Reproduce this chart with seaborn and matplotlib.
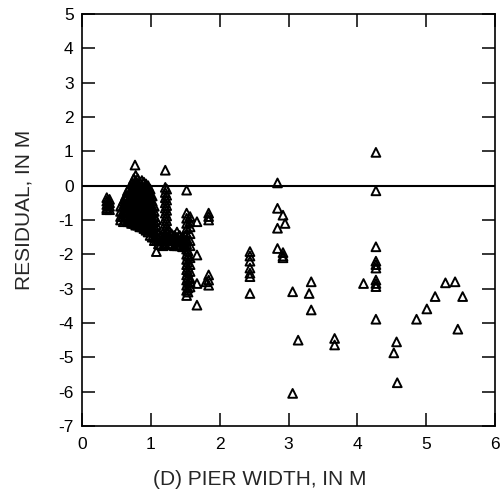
import matplotlib
matplotlib.use("Agg")
import matplotlib.pyplot as plt
import seaborn as sns
import pandas as pd

# ---- data ----
widths_narrow = [0.36, 0.40, 0.56, 0.60, 0.63, 0.66, 0.69, 0.72, 0.75, 0.77, 0.78, 0.81,
                 0.84, 0.87, 0.90, 0.93, 0.96, 0.99, 1.02, 1.05, 1.08, 1.11]
residuals_narrow = [
    [-0.35, -0.45, -0.55, -0.65, -0.7],
    [-0.4, -0.5, -0.6, -0.7],
    [-0.6, -0.75, -0.9, -1.0],
    [-0.45, -0.6, -0.75, -0.9, -1.05],
    [-0.3, -0.4, -0.55, -0.7, -0.85, -1.0],
    [-0.15, -0.3, -0.45, -0.6, -0.75, -0.9, -1.05],
    [-0.05, -0.2, -0.35, -0.5, -0.65, -0.8, -0.95, -1.05],
    [0.05, -0.1, -0.25, -0.4, -0.55, -0.7, -0.85, -1.0, -1.1],
    [0.2, 0.05, -0.1, -0.25, -0.4, -0.55, -0.7, -0.85, -1.0, -1.1],
    [0.6],
    [0.3, 0.15, 0.0, -0.15, -0.3, -0.45, -0.6, -0.75, -0.9, -1.05, -1.15],
    [0.2, 0.05, -0.1, -0.25, -0.4, -0.55, -0.7, -0.85, -1.0, -1.15],
    [0.1, -0.05, -0.2, -0.35, -0.5, -0.65, -0.8, -0.95, -1.1, -1.2],
    [0.15, 0.0, -0.15, -0.3, -0.45, -0.6, -0.75, -0.9, -1.05, -1.2],
    [0.1, -0.05, -0.2, -0.35, -0.5, -0.65, -0.8, -0.95, -1.1, -1.25],
    [0.05, -0.1, -0.25, -0.4, -0.55, -0.7, -0.85, -1.0, -1.15, -1.3],
    [0.0, -0.15, -0.3, -0.45, -0.6, -0.75, -0.9, -1.05, -1.2, -1.35],
    [-0.1, -0.25, -0.4, -0.55, -0.7, -0.85, -1.0, -1.15, -1.3, -1.45],
    [-0.3, -0.45, -0.6, -0.75, -0.9, -1.05, -1.2, -1.35, -1.5],
    [-0.6, -0.75, -0.9, -1.05, -1.2, -1.35, -1.5, -1.6],
    [-1.0, -1.15, -1.3, -1.45, -1.6, -1.92],
    [-1.4, -1.55, -1.7],
]

widths_mid = [1.14, 1.18, 1.21, 1.23, 1.26, 1.30, 1.34, 1.38, 1.42, 1.46, 1.50, 1.52,
              1.54, 1.57, 1.67, 1.80, 1.84]
residuals_mid = [
    [-1.45, -1.6, -1.72],
    [-1.5, -1.62, -1.75],
    [0.45, -0.05, -0.2, -0.35, -0.5, -0.65, -0.8, -0.95, -1.1, -1.25, -1.4, -1.55, -1.7],
    [-0.1, -0.28, -0.42, -0.58, -0.72, -0.88, -1.02, -1.18, -1.32],
    [-1.3, -1.45, -1.6, -1.72],
    [-1.4, -1.55, -1.7],
    [-1.45, -1.6, -1.75],
    [-1.35, -1.5, -1.65, -1.75],
    [-1.45, -1.6, -1.75],
    [-1.5, -1.65, -1.78],
    [-1.45, -1.6, -1.75],
    [-0.13, -0.8, -0.95, -1.1, -1.25, -1.4, -1.55, -1.7, -1.85, -2.0, -2.15, -2.3,
     -2.45, -2.6, -2.75, -2.9, -3.05, -3.2],
    [-1.9, -2.05, -2.22, -2.38, -2.52, -2.68, -2.82, -2.98, -3.1],
    [-0.9, -1.05, -1.2, -1.4, -1.6, -1.75, -2.1, -2.3, -2.5, -2.7, -2.8, -2.95],
    [-1.05, -2.02, -2.85, -3.48],
    [-2.8],
    [-0.8, -0.9, -1.0, -2.6, -2.75, -2.9],
]

widths_wide = [2.44, 2.84, 2.92, 2.95, 3.06, 3.14, 3.30, 3.33, 3.67, 4.09, 4.27,
               4.53, 4.57, 4.58, 4.86, 5.01, 5.13, 5.28, 5.42, 5.46, 5.53]
residuals_wide = [
    [-1.92, -2.05, -2.2, -2.4, -2.55, -2.65, -3.14],
    [0.08, -0.66, -1.24, -1.83],
    [-0.86, -1.95, -2.05, -2.1],
    [-1.1],
    [-3.09, -6.05],
    [-4.5],
    [-3.14],
    [-2.8, -3.62],
    [-4.45, -4.64],
    [-2.85],
    [0.97, -0.15, -1.78, -2.2, -2.3, -2.4, -2.75, -2.85, -2.94, -3.89],
    [-4.87],
    [-4.55],
    [-5.74],
    [-3.89],
    [-3.59],
    [-3.23],
    [-2.83],
    [-2.8],
    [-4.18],
    [-3.23],
]

x_ticks = [0, 1, 2, 3, 4, 5, 6]
y_ticks = [-7, -6, -5, -4, -3, -2, -1, 0, 1, 2, 3, 4, 5]
x_label = "(D) PIER WIDTH, IN M"
y_label = "RESIDUAL, IN M"

# ---- build table ----
rows = []
for ws, rs in ((widths_narrow, residuals_narrow), (widths_mid, residuals_mid), (widths_wide, residuals_wide)):
    for w, col in zip(ws, rs):
        for r in col:
            rows.append((w, r))
df = pd.DataFrame(rows, columns=["width", "residual"])

sns.set_style("ticks")
plt.rcParams["font.family"] = ["Liberation Sans", "DejaVu Sans"]

fig = plt.figure(figsize=(5.03, 4.99), dpi=100)
ax = fig.add_axes([82 / 503, 1 - 426 / 499, 413 / 503, 412 / 499])

ax.axhline(0, color="black", lw=1.5, zorder=1)
sns.scatterplot(data=df, x="width", y="residual", ax=ax, marker="^", s=40,
                facecolor="none", edgecolor="black", linewidth=1.4, zorder=3)

ax.set_xlim(0, 6)
ax.set_ylim(-7, 5)
ax.set_xticks(x_ticks)
ax.set_yticks(y_ticks)
ax.set_xticklabels([str(v) for v in x_ticks])
ax.set_yticklabels([str(v) for v in y_ticks])
ax.tick_params(direction="in", length=9.5, width=1.1, top=True, right=True,
               labelsize=12.5, colors="black", pad=8)
ax.tick_params(axis="y", pad=6)
for s in ax.spines.values():
    s.set_visible(True)
    s.set_linewidth(1.2)
    s.set_color("black")

ax.set_xlabel(x_label, fontsize=15)
ax.set_ylabel(y_label, fontsize=15)
ax.xaxis.set_label_coords(0.43, -0.107)
ax.yaxis.set_label_coords(-0.118, 0.525)

fig.savefig("out.png", dpi=100)
